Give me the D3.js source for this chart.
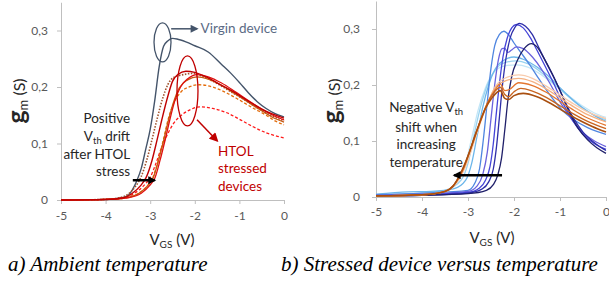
<!DOCTYPE html>
<html>
<head>
<meta charset="utf-8">
<script src="https://cdnjs.cloudflare.com/ajax/libs/d3/7.8.5/d3.min.js"></script>
<style>
  body { margin: 0; background: #fff; }
  svg { display: block; font-family: Lato, "Open Sans", sans-serif; }
  .caption { font-family: "Times New Roman", "Liberation Serif", serif; font-style: italic; font-size: 21px; }
</style>
</head>
<body>
<svg id="chart" width="609" height="286"></svg>
<script>
// gm(VGS) curves. Each series is a list of [VGS (V), gm (S)]

const vgsTicks = [-5, -4, -3, -2, -1, 0];
const gmTicks = [0, 0.1, 0.2, 0.3];
const gmTickLabels = ['0', '0,1', '0,2', '0,3'];

// a) ambient temperature
const virginDevice = [[-5,0],[-4.5,0.0005],[-4,0.001],[-3.7,0.003],[-3.5,0.008],[-3.4,0.018],[-3.3,0.034],[-3.2,0.056],[-3.1,0.09],[-3.0,0.125],[-2.9,0.175],[-2.8,0.235],[-2.7,0.272],[-2.6,0.282],[-2.5,0.286],[-2.4,0.285],[-2.2,0.28],[-2.0,0.273],[-1.7,0.262],[-1.4,0.24],[-1.2,0.225],[-1.0,0.208],[-0.8,0.19],[-0.6,0.174],[-0.4,0.162],[-0.2,0.153],[0,0.147]];
const htolDotted = [[-5,0],[-4,0.001],[-3.7,0.004],[-3.5,0.01],[-3.35,0.022],[-3.21,0.04],[-3.08,0.07],[-2.95,0.11],[-2.85,0.142],[-2.72,0.18],[-2.6,0.205],[-2.45,0.218],[-2.25,0.222],[-2.05,0.224],[-1.8,0.218],[-1.5,0.206],[-1.2,0.192],[-0.9,0.178],[-0.6,0.163],[-0.3,0.15],[0,0.14]];
const htolRedA = [[-5,0],[-4,0.001],[-3.6,0.004],[-3.4,0.012],[-3.22,0.025],[-3.09,0.04],[-2.96,0.07],[-2.85,0.105],[-2.74,0.142],[-2.6,0.185],[-2.5,0.21],[-2.38,0.222],[-2.2,0.228],[-2.0,0.226],[-1.7,0.216],[-1.4,0.203],[-1.1,0.19],[-0.8,0.175],[-0.5,0.161],[-0.25,0.152],[0,0.145]];
const htolRedDashed = [[-5,0],[-4,0.001],[-3.6,0.004],[-3.35,0.012],[-3.15,0.025],[-3.0,0.04],[-2.87,0.065],[-2.75,0.092],[-2.62,0.115],[-2.48,0.135],[-2.3,0.15],[-2.1,0.16],[-1.88,0.165],[-1.6,0.162],[-1.3,0.155],[-1.0,0.143],[-0.7,0.13],[-0.4,0.119],[-0.2,0.114],[0,0.11]];
const htolOrangeDashed = [[-5,0],[-4,0.001],[-3.6,0.003],[-3.3,0.01],[-3.1,0.022],[-2.94,0.04],[-2.82,0.07],[-2.7,0.108],[-2.6,0.142],[-2.45,0.175],[-2.3,0.192],[-2.1,0.201],[-1.9,0.204],[-1.6,0.2],[-1.3,0.19],[-1.0,0.177],[-0.7,0.163],[-0.4,0.15],[-0.2,0.14],[0,0.133]];
const htolBrown = [[-5,0],[-4,0.001],[-3.55,0.004],[-3.25,0.012],[-3.06,0.025],[-2.93,0.04],[-2.82,0.068],[-2.7,0.105],[-2.6,0.138],[-2.48,0.172],[-2.35,0.198],[-2.15,0.213],[-1.95,0.218],[-1.7,0.214],[-1.4,0.203],[-1.1,0.188],[-0.8,0.173],[-0.5,0.158],[-0.25,0.146],[0,0.138]];
const htolRedB = [[-5,0],[-4,0.001],[-3.5,0.004],[-3.2,0.012],[-3.02,0.025],[-2.89,0.04],[-2.78,0.07],[-2.66,0.108],[-2.56,0.142],[-2.45,0.175],[-2.32,0.2],[-2.15,0.215],[-1.95,0.222],[-1.7,0.218],[-1.4,0.207],[-1.1,0.192],[-0.8,0.176],[-0.5,0.161],[-0.25,0.15],[0,0.142]];

// b) stressed device vs temperature (cold -> hot)
const tempNavy = [[-5,0.002],[-4,0.003],[-3,0.006],[-2.6,0.012],[-2.45,0.022],[-2.35,0.04],[-2.27,0.07],[-2.2,0.12],[-2.13,0.175],[-2.05,0.215],[-1.92,0.245],[-1.78,0.265],[-1.62,0.274],[-1.5,0.268],[-1.35,0.248],[-1.2,0.225],[-1.0,0.19],[-0.8,0.152],[-0.6,0.122],[-0.4,0.102],[-0.2,0.088],[0,0.078]];
const tempIndigo = [[-5,0.002],[-4,0.003],[-3,0.007],[-2.7,0.014],[-2.55,0.027],[-2.45,0.05],[-2.38,0.09],[-2.32,0.14],[-2.25,0.2],[-2.17,0.25],[-2.08,0.285],[-1.98,0.303],[-1.88,0.31],[-1.75,0.305],[-1.6,0.29],[-1.45,0.265],[-1.3,0.24],[-1.1,0.208],[-0.9,0.172],[-0.7,0.14],[-0.5,0.116],[-0.3,0.1],[-0.1,0.088],[0,0.083]];
const tempBlue1 = [[-5,0.002],[-4,0.004],[-3,0.008],[-2.75,0.016],[-2.62,0.03],[-2.52,0.055],[-2.45,0.095],[-2.39,0.145],[-2.32,0.2],[-2.24,0.25],[-2.15,0.283],[-2.05,0.302],[-1.95,0.308],[-1.8,0.302],[-1.65,0.285],[-1.5,0.262],[-1.35,0.238],[-1.15,0.205],[-0.95,0.17],[-0.75,0.14],[-0.5,0.112],[-0.25,0.095],[0,0.085]];
const tempViolet = [[-5,0.003],[-4,0.005],[-3,0.01],[-2.8,0.02],[-2.68,0.04],[-2.58,0.08],[-2.5,0.14],[-2.42,0.2],[-2.34,0.245],[-2.26,0.265],[-2.2,0.266],[-2.14,0.258],[-2.06,0.262],[-1.95,0.268],[-1.8,0.265],[-1.6,0.25],[-1.4,0.228],[-1.2,0.2],[-1.0,0.17],[-0.8,0.145],[-0.5,0.115],[-0.25,0.1],[0,0.09]];
const tempBlue2 = [[-5,0.004],[-4,0.007],[-3,0.012],[-2.85,0.025],[-2.75,0.05],[-2.67,0.1],[-2.58,0.17],[-2.5,0.23],[-2.42,0.27],[-2.32,0.29],[-2.22,0.296],[-2.12,0.29],[-2.0,0.275],[-1.85,0.258],[-1.65,0.235],[-1.45,0.21],[-1.2,0.18],[-0.95,0.155],[-0.7,0.138],[-0.4,0.124],[-0.2,0.117],[0,0.112]];
const tempSky1 = [[-5,0.005],[-4.3,0.009],[-3.8,0.01],[-3.3,0.015],[-3.05,0.03],[-2.92,0.06],[-2.8,0.11],[-2.68,0.16],[-2.55,0.2],[-2.4,0.23],[-2.2,0.245],[-2.0,0.25],[-1.8,0.246],[-1.5,0.232],[-1.2,0.212],[-1.0,0.195],[-0.7,0.172],[-0.4,0.153],[-0.2,0.143],[0,0.135]];
const tempSky2 = [[-5,0.004],[-4,0.007],[-3.5,0.012],[-3.15,0.03],[-3.0,0.06],[-2.87,0.11],[-2.73,0.16],[-2.58,0.2],[-2.4,0.228],[-2.2,0.24],[-1.95,0.243],[-1.7,0.238],[-1.4,0.222],[-1.1,0.2],[-0.8,0.178],[-0.5,0.158],[-0.25,0.146],[0,0.138]];
const tempSky3 = [[-5,0.004],[-4,0.006],[-3.5,0.011],[-3.2,0.03],[-3.05,0.06],[-2.92,0.105],[-2.78,0.155],[-2.62,0.195],[-2.45,0.222],[-2.2,0.234],[-1.95,0.236],[-1.7,0.232],[-1.4,0.218],[-1.1,0.199],[-0.8,0.18],[-0.5,0.162],[-0.25,0.15],[0,0.142]];
const tempPeach1 = [[-5,0.002],[-4,0.004],[-3.5,0.01],[-3.25,0.025],[-3.05,0.055],[-2.9,0.09],[-2.75,0.128],[-2.55,0.172],[-2.4,0.198],[-2.2,0.212],[-1.9,0.218],[-1.6,0.212],[-1.3,0.198],[-1.0,0.182],[-0.7,0.166],[-0.4,0.152],[0,0.14]];
const tempPeach2 = [[-5,0.002],[-4,0.004],[-3.5,0.01],[-3.27,0.025],[-3.07,0.055],[-2.92,0.09],[-2.76,0.127],[-2.56,0.17],[-2.42,0.194],[-2.2,0.207],[-1.9,0.212],[-1.6,0.206],[-1.3,0.193],[-1.0,0.177],[-0.7,0.161],[-0.4,0.147],[0,0.134]];
const tempOrange1 = [[-5,0.002],[-4,0.004],[-3.5,0.01],[-3.3,0.022],[-3.1,0.05],[-2.95,0.085],[-2.78,0.125],[-2.58,0.168],[-2.42,0.19],[-2.3,0.202],[-2.2,0.19],[-2.1,0.192],[-1.9,0.204],[-1.6,0.199],[-1.3,0.187],[-1.0,0.171],[-0.7,0.155],[-0.4,0.141],[0,0.128]];
const tempOrange2 = [[-5,0.002],[-4,0.004],[-3.5,0.01],[-3.32,0.02],[-3.12,0.048],[-2.96,0.082],[-2.8,0.12],[-2.6,0.163],[-2.45,0.185],[-2.3,0.196],[-2.2,0.183],[-2.12,0.179],[-2.0,0.188],[-1.85,0.194],[-1.6,0.189],[-1.3,0.178],[-1.0,0.163],[-0.7,0.148],[-0.4,0.135],[0,0.122]];
const tempBrown = [[-5,0.002],[-4,0.004],[-3.5,0.01],[-3.33,0.019],[-3.14,0.046],[-2.97,0.08],[-2.82,0.116],[-2.62,0.158],[-2.47,0.178],[-2.3,0.19],[-2.2,0.176],[-2.12,0.174],[-2.0,0.181],[-1.8,0.185],[-1.5,0.179],[-1.2,0.167],[-0.9,0.152],[-0.6,0.138],[-0.3,0.126],[0,0.116]];

const ambientSeries = [
  { data: virginDevice,     color: '#44546a', width: 1.4 },
  { data: htolDotted,       color: '#a0522d', width: 1.6, dash: '1.5,1.5' },
  { data: htolRedDashed,    color: '#ff1a1a', width: 1.3, dash: '3,2' },
  { data: htolOrangeDashed, color: '#e46c0a', width: 1.3, dash: '3,2' },
  { data: htolBrown,        color: '#c55a11', width: 1.3 },
  { data: htolRedB,         color: '#e01010', width: 1.3 },
  { data: htolRedA,         color: '#c00000', width: 1.4 }
];

const tempSeries = [
  { data: tempSky3,    color: '#c3e6f7' },
  { data: tempSky2,    color: '#99d3f0' },
  { data: tempSky1,    color: '#6cb6ea' },
  { data: tempBlue2,   color: '#4f86e0' },
  { data: tempViolet,  color: '#6a62dc' },
  { data: tempBlue1,   color: '#4444d8' },
  { data: tempIndigo,  color: '#2e2ea8' },
  { data: tempNavy,    color: '#20206a' },
  { data: tempPeach1,  color: '#f8cbad' },
  { data: tempPeach2,  color: '#f4b183' },
  { data: tempOrange1, color: '#e3762f' },
  { data: tempOrange2, color: '#c86420' },
  { data: tempBrown,   color: '#a94f10', width: 1.6 }
];

const svg = d3.select('#chart');
const defs = svg.append('defs');

function arrowHead(id, color, w, h) {
  defs.append('marker')
    .attr('id', id)
    .attr('viewBox', '0 0 10 10')
    .attr('refX', 8).attr('refY', 5)
    .attr('markerWidth', w).attr('markerHeight', h)
    .attr('markerUnits', 'userSpaceOnUse')
    .attr('orient', 'auto')
    .append('path').attr('d', 'M0,0L10,5L0,10z').attr('fill', color);
}
arrowHead('ah-black', '#000', 9, 8);
arrowHead('ah-slate', '#44546a', 9, 8);
arrowHead('ah-red', '#c00000', 10, 9);

function drawPanel(opt) {
  const g = svg.append('g');
  const x = d3.scaleLinear().domain([-5, 0]).range(opt.xRange);
  const y = d3.scaleLinear().domain([0, 0.35]).range(opt.yRange);

  g.append('g')
    .attr('transform', `translate(0,${y(0)})`)
    .call(d3.axisBottom(x).tickValues(vgsTicks).tickFormat(d => String(d)).tickSize(4).tickSizeOuter(0).tickPadding(opt.xPad))
    .call(a => a.select('.domain').attr('stroke', '#bfbfbf'))
    .call(a => a.selectAll('.tick line').attr('stroke', '#bfbfbf'))
    .call(a => a.selectAll('.tick text').attr('fill', '#595959').attr('font-size', 12).attr('font-family', 'Lato, sans-serif'));

  g.append('g')
    .attr('transform', `translate(${x(-5)},0)`)
    .call(d3.axisLeft(y).tickValues(gmTicks).tickFormat((d, i) => gmTickLabels[i]).tickSize(4).tickSizeOuter(0).tickPadding(opt.yPad))
    .call(a => a.select('.domain').attr('stroke', '#bfbfbf'))
    .call(a => a.selectAll('.tick line').attr('stroke', '#bfbfbf'))
    .call(a => a.selectAll('.tick text').attr('fill', '#595959').attr('font-size', 12).attr('font-family', 'Lato, sans-serif'));

  const line = d3.line()
    .x(d => x(d[0]))
    .y(d => y(d[1]))
    .curve(d3.curveMonotoneX);

  g.append('g').selectAll('path')
    .data(opt.series)
    .join('path')
    .attr('fill', 'none')
    .attr('stroke', d => d.color)
    .attr('stroke-width', d => d.width || 1.3)
    .attr('stroke-dasharray', d => d.dash || null)
    .attr('stroke-linejoin', 'round')
    .attr('d', d => line(d.data));

  // y label
  const yl = g.append('text')
    .attr('transform', `translate(${opt.yLabelX},${opt.yLabelY}) rotate(-90)`)
    .attr('text-anchor', 'middle')
    .attr('fill', '#262626');
  yl.append('tspan').attr('font-size', 25).attr('font-weight', 'bold').text('g');
  yl.append('tspan').attr('font-size', 13).attr('dy', 3).text('m');
  yl.append('tspan').attr('font-size', 16).attr('dy', -3).text(' (S)');

  // x label
  const xl = g.append('text')
    .attr('x', opt.xLabelX).attr('y', opt.xLabelY)
    .attr('text-anchor', 'middle')
    .attr('fill', '#262626')
    .attr('font-size', 15);
  xl.append('tspan').text('V');
  xl.append('tspan').attr('font-size', 10).attr('dy', 3).text('GS');
  xl.append('tspan').attr('dy', -3).text(' (V)');

  return { g, x, y };
}

function addLines(g, x, y, lines, xv, gms, anchor, color) {
  lines.forEach((ln, i) => {
    const t = g.append('text')
      .attr('x', x(xv)).attr('y', y(gms[i]) + 4.5)
      .attr('text-anchor', anchor)
      .attr('fill', color)
      .attr('font-size', 13.5);
    ln.forEach(part => {
      if (part.sub) t.append('tspan').attr('font-size', 9.5).attr('dy', 3).text(part.sub);
      else t.append('tspan').attr('dy', part.up ? -3 : 0).text(part.t);
    });
  });
}

// ---- a) ambient temperature
const A = drawPanel({
  xRange: [61, 284], yRange: [200, 200 - 0.35 * 565],
  xPad: 7, yPad: 9, series: ambientSeries,
  yLabelX: 25, yLabelY: 101, xLabelX: 172, xLabelY: 245
});

A.g.append('ellipse')
  .attr('cx', A.x(-2.724)).attr('cy', A.y(0.279))
  .attr('rx', 8.5).attr('ry', 19.5)
  .attr('fill', 'none').attr('stroke', '#44546a').attr('stroke-width', 1.3);
A.g.append('line')
  .attr('x1', A.x(-2.53)).attr('y1', A.y(0.303))
  .attr('x2', A.x(-1.95)).attr('y2', A.y(0.303))
  .attr('stroke', '#44546a').attr('stroke-width', 1.5)
  .attr('marker-end', 'url(#ah-slate)');
A.g.append('text')
  .attr('x', A.x(-1.87)).attr('y', A.y(0.303) + 4.5)
  .attr('fill', '#5b6b85').attr('font-size', 13.5)
  .text('Virgin device');

A.g.append('ellipse')
  .attr('cx', A.x(-2.164)).attr('cy', A.y(0.193))
  .attr('rx', 10.5).attr('ry', 35)
  .attr('fill', 'none').attr('stroke', '#c00000').attr('stroke-width', 1.3);
A.g.append('line')
  .attr('x1', A.x(-1.95)).attr('y1', A.y(0.142))
  .attr('x2', A.x(-1.5)).attr('y2', A.y(0.105))
  .attr('stroke', '#c00000').attr('stroke-width', 1.5)
  .attr('marker-end', 'url(#ah-red)');

addLines(A.g, A.x, A.y,
  [[{ t: 'HTOL' }], [{ t: 'stressed' }], [{ t: 'devices' }]],
  -1.48, [0.085, 0.055, 0.024], 'start', '#c00000');

addLines(A.g, A.x, A.y,
  [[{ t: 'Positive' }], [{ t: 'V' }, { sub: 'th' }, { t: ' drift', up: true }], [{ t: 'after HTOL' }], [{ t: 'stress' }]],
  -3.45, [0.145, 0.113, 0.081, 0.05], 'end', '#262626');

A.g.append('line')
  .attr('x1', A.x(-3.39)).attr('y1', A.y(0.035))
  .attr('x2', A.x(-2.9)).attr('y2', A.y(0.035))
  .attr('stroke', '#000').attr('stroke-width', 2.5)
  .attr('marker-end', 'url(#ah-black)');

// ---- b) stressed device vs temperature
const B = drawPanel({
  xRange: [376, 606], yRange: [197, 197 - 0.35 * 560],
  xPad: 6, yPad: 12, series: tempSeries,
  yLabelX: 340, yLabelY: 101, xLabelX: 492, xLabelY: 243
});

addLines(B.g, B.x, B.y,
  [[{ t: 'Negative V' }, { sub: 'th' }], [{ t: 'shift when' }], [{ t: 'increasing' }], [{ t: 'temperature' }]],
  -3.91, [0.159, 0.125, 0.093, 0.0625], 'middle', '#262626');

B.g.append('line')
  .attr('x1', B.x(-2.26)).attr('y1', B.y(0.039))
  .attr('x2', B.x(-3.3)).attr('y2', B.y(0.039))
  .attr('stroke', '#000').attr('stroke-width', 2.5)
  .attr('marker-end', 'url(#ah-black)');

// captions
svg.append('text')
  .attr('class', 'caption')
  .attr('x', 8).attr('y', 271)
  .attr('fill', '#000')
  .text('a) Ambient temperature');
svg.append('text')
  .attr('class', 'caption')
  .attr('x', 281).attr('y', 271)
  .attr('fill', '#000')
  .text('b) Stressed device versus temperature');
</script>
</body>
</html>
